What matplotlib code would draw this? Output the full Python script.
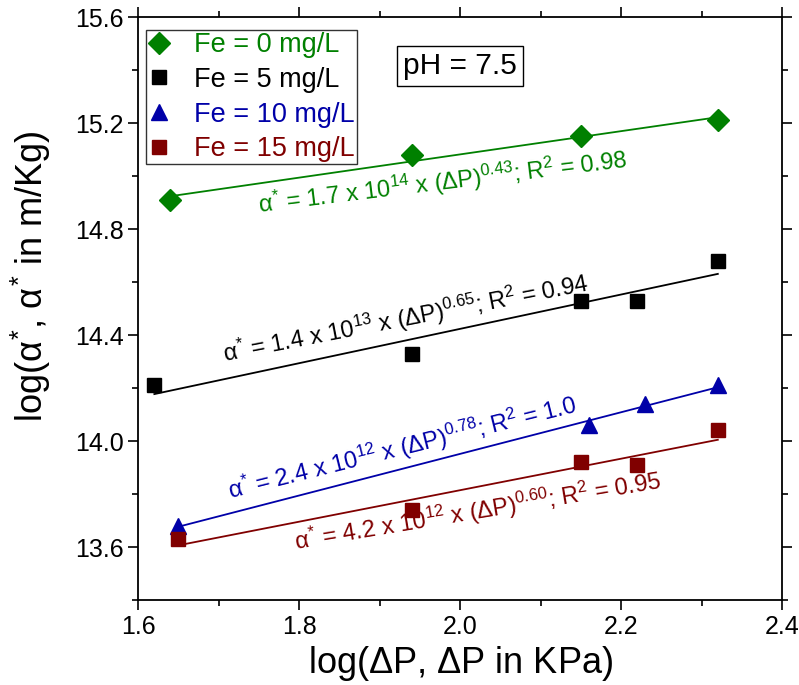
import numpy as np
import matplotlib.pyplot as plt
from matplotlib.ticker import MultipleLocator

plt.rcParams['font.family'] = ['Liberation Sans', 'DejaVu Sans']
plt.rcParams['mathtext.fontset'] = 'custom'
plt.rcParams['mathtext.rm'] = 'Liberation Sans'
plt.rcParams['mathtext.it'] = 'Liberation Sans'

# data
x_fe0 = [1.64, 1.94, 2.15, 2.32]
y_fe0 = [14.91, 15.08, 15.15, 15.21]
x_fe5 = [1.62, 1.94, 2.15, 2.22, 2.32]
y_fe5 = [14.21, 14.33, 14.53, 14.53, 14.68]
x_fe10 = [1.65, 2.16, 2.23, 2.32]
y_fe10 = [13.68, 14.06, 14.14, 14.21]
x_fe15 = [1.65, 1.94, 2.15, 2.22, 2.32]
y_fe15 = [13.63, 13.74, 13.92, 13.91, 14.04]

labels = ['Fe = 0 mg/L', 'Fe = 5 mg/L', 'Fe = 10 mg/L', 'Fe = 15 mg/L']
colors = ['#008000', '#000000', '#0000a8', '#800000']
markers = ['D', 's', '^', 's']
msizes = [11, 10.5, 12, 10.5]

equations = [
    r'$\alpha^{*}$ = 1.7 x 10$^{14}$ x ($\Delta$P)$^{0.43}$; R$^{2}$ = 0.98',
    r'$\alpha^{*}$ = 1.4 x 10$^{13}$ x ($\Delta$P)$^{0.65}$; R$^{2}$ = 0.94',
    r'$\alpha^{*}$ = 2.4 x 10$^{12}$ x ($\Delta$P)$^{0.78}$; R$^{2}$ = 1.0',
    r'$\alpha^{*}$ = 4.2 x 10$^{12}$ x ($\Delta$P)$^{0.60}$; R$^{2}$ = 0.95',
]
eq_pos = [(1.978, 14.975, 7.0), (1.932, 14.46, 11.0), (1.928, 13.975, 14.0), (2.022, 13.735, 9.5)]

xs = [x_fe0, x_fe5, x_fe10, x_fe15]
ys = [y_fe0, y_fe5, y_fe10, y_fe15]

fig = plt.figure(figsize=(7.99, 6.85), dpi=100)
ax = fig.add_axes([0.173, 0.124, 0.806, 0.851])

handles = []
for x, y, c, m, ms, lab in zip(xs, ys, colors, markers, msizes, labels):
    h, = ax.plot(x, y, linestyle='none', marker=m, color=c, markersize=ms, label=lab, zorder=3)
    handles.append(h)
    k, b = np.polyfit(x, y, 1)
    xl = np.array([min(x), max(x)])
    ax.plot(xl, k * xl + b, color=c, linewidth=1.3)

for (tx, ty, rot), eq, c in zip(eq_pos, equations, colors):
    ax.text(tx, ty, eq, color=c, fontsize=17, rotation=rot, ha='center', va='center',
            rotation_mode='anchor')

leg = ax.legend(handles=handles, loc='upper left', fontsize=19.5, frameon=True, fancybox=False,
                edgecolor='black', handletextpad=0.9, borderpad=0.08, labelspacing=0.32,
                handlelength=0.8, bbox_to_anchor=(-0.003, 0.994), borderaxespad=0.35)
leg.get_frame().set_linewidth(1.0)
for t, c in zip(leg.get_texts(), colors):
    t.set_color(c)

ax.text(0.50, 0.916, 'pH = 7.5', transform=ax.transAxes, fontsize=21.5, ha='center', va='center',
        bbox=dict(boxstyle='square,pad=0.2', facecolor='white', edgecolor='black', linewidth=1.0))

ax.set_xlim(1.6, 2.4)
ax.set_ylim(13.4, 15.6)
ax.xaxis.set_major_locator(MultipleLocator(0.2))
ax.xaxis.set_minor_locator(MultipleLocator(0.1))
ax.yaxis.set_major_locator(MultipleLocator(0.4))
ax.yaxis.set_minor_locator(MultipleLocator(0.2))
ax.tick_params(which='both', direction='out', top=True, right=True, labelsize=18, width=1.2)
ax.tick_params(which='major', length=7)
ax.tick_params(which='minor', length=4)
ax.set_xticklabels(['%.1f' % v for v in ax.get_xticks()])
ax.set_yticklabels(['%.1f' % v for v in ax.get_yticks()])
for s in ax.spines.values():
    s.set_linewidth(1.3)

ax.set_xlabel(r'log($\Delta$P, $\Delta$P in KPa)', fontsize=26, labelpad=4)
ax.set_ylabel(r'log($\alpha^{*}$, $\alpha^{*}$ in m/Kg)', fontsize=26)
ax.yaxis.set_label_coords(-0.132, 0.556)

fig.savefig('out.png', dpi=100)
